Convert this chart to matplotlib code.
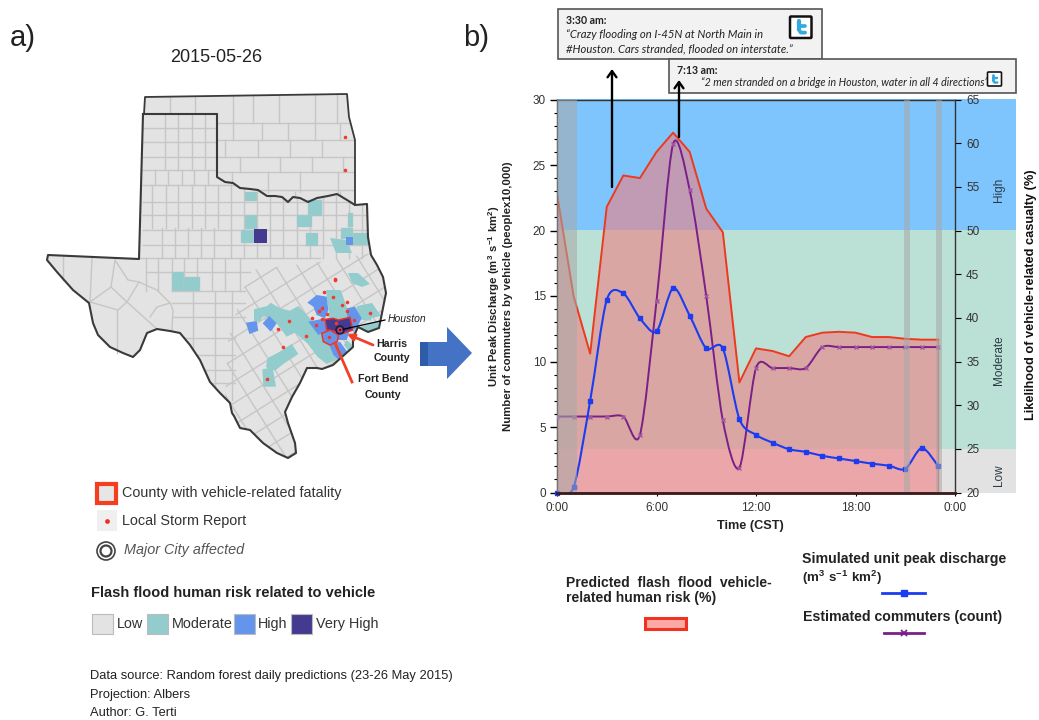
import numpy as np
import matplotlib
matplotlib.use("Agg")
import matplotlib.pyplot as plt
from matplotlib.patches import Polygon, Rectangle, Circle, PathPatch, FancyBboxPatch
from matplotlib.path import Path
from matplotlib.ticker import MultipleLocator, FuncFormatter

plt.rcParams['font.family'] = ['Liberation Sans', 'DejaVu Sans']
plt.rcParams['mathtext.fontset'] = 'custom'
plt.rcParams['mathtext.rm'] = 'Liberation Sans'
plt.rcParams['mathtext.bf'] = 'Liberation Sans:bold'

# ---------- chart data ----------
hours = list(range(24))
discharge = [0, 0.4, 7, 14.7, 15.2, 13.3, 12.3, 15.6, 13.5, 11, 11, 5.6, 4.4, 3.8, 3.3, 3.1, 2.8, 2.6, 2.4, 2.2, 2.05, 1.8, 3.4, 2.0]
commuters = [5.8, 5.8, 5.8, 5.8, 5.8, 4.4, 14.6, 26.6, 23.1, 15, 5.5, 1.9, 9.5, 9.5, 9.5, 9.5, 11.1, 11.1, 11.1, 11.1, 11.1, 11.1, 11.1, 11.1]
risk = [54.2, 42.5, 35.9, 52.7, 56.3, 56, 59, 61.2, 59, 52.5, 49.8, 32.6, 36.5, 36.2, 35.6, 37.8, 38.3, 38.4, 38.3, 37.8, 37.8, 37.6, 37.5, 37.5]
band_edges = [20, 25, 50, 65]
band_colors = ['#E2E2E2', '#BBE0D5', '#7EC5FD']
band_labels = ['Low', 'Moderate', 'High']
band_label_y = [22, 35.2, 54.7]
gray_spans = [(0, 1.2), (20.9, 21.3), (22.85, 23.2)]

# ---------- map geometry (image pixels) ----------
red_river = [(217,177),(225,182),(233,183),(240,188),(250,189),(258,190),(267,196),(275,196),(282,197),(288,202),(293,197),(300,198),(308,202),(317,198),(328,196),(337,194),(347,200),(355,205),(367,204)]
tx_east = [(368,237),(371,255),(377,265),(383,277),(386,293),(382,313),(379,328)]
tx_coast = [(368,332),(358,327),(353,338),(353,347),(333,365),(322,369),(317,368),(307,368),(300,383),(292,397),(285,412),(288,423),(295,443),(296,453),(288,458),(277,453),(263,443),(250,430),(240,428),(234,416),(232,413),(230,403),(220,393)]
rio_grande = [(210,382),(200,360),(190,345),(180,333),(170,331),(157,329),(147,333),(140,350),(133,357),(123,353),(110,347),(98,335),(93,323),(89,303),(73,290),(57,272),(47,260),(48,255)]
texas = [(143,114),(217,114)] + red_river + tx_east + tx_coast + rio_grande + [(139,259)]
oklahoma = [(145,97),(347,94),(349,117),(355,140),(355,205)] + red_river[::-1] + [(217,114),(144,114)]
west_region = [(40,90),(400,90),(400,248),(320,262),(250,270),(240,300),(228,340),(225,400),(225,470),(40,470)]
tp_lines = [[(63,257),(63,280)],[(92,258),(90,302)],[(115,260),(111,287)],[(90,302),(111,287),(127,302),(118,310),(90,302)],
            [(117,310),(117,353)],[(127,302),(157,329)],[(127,302),(139,282)],
            [(115,260),(128,280),(139,282),(157,290),(170,303),(157,307),(150,317)],[(170,303),(173,310),(172,330)]]
tx_rows = [(114,170,[165,178,192,205]),(170,185,[155,168,182,194,208]),(185,228,[152,166,178,192,205,218]),
           (228,258,[162,175,188,201,214,231,244,257,270,283,297,310,323,336,349,362]),(177,228,[231,244,257,270,283,297,310,323,336,349,362]),
           (258,291,[146,158,172,184,197,212,225,240]),(291,400,[193,215,232])]
tx_hlines = [(143,217,128),(143,217,142),(143,217,157),(143,217,170),(143,310,185),(143,372,202),(143,372,215),(143,372,230),(143,372,245),
             (139,320,258),(146,250,272),(172,245,291),(172,245,303),(172,245,317),(172,235,338),(172,235,355),(172,235,370),(172,235,383)]
ok_rows = [(94,123,[170,195,233,253,279,315,337]),(123,140,[233,262,288,315,340]),
           (140,157,[225,258,290,322]),(157,172,[240,280,312,343]),(172,192,[232,268,300,338]),(192,206,[258,295,340])]
ok_hlines = [(217,355,123),(217,355,140),(217,355,157),(217,355,172),(230,355,190)]
teal_rects = [(245,192,12,9),(245,215,12,14),(241,230,13,13),(172,272,12,19),(184,277,16,14),(308,200,14,16),(297,215,15,12),(306,233,12,13),(348,213,5,14),(341,228,12,11),(353,233,15,12)]
teal_polys = [[(348,273),(358,273),(370,284),(362,287),(352,283)],[(330,238),(346,240),(352,253),(336,253)],
              [(352,330),(380,320),(380,328),(368,332),(356,338)],[(357,306),(372,303),(381,316),(362,320)]]
purple_rects = [(254,229,13,14)]
blue_rects = [(346,237,7,8)]
z10_teal = [[(72,58),(112,48),(122,38),(150,55),(180,62),(205,48),(245,90),(290,120),(300,160),(330,205),(290,222),(262,200),(232,160),(195,128),(170,140),(140,100),(100,76),(90,95),(72,92)],
            [(112,205),(150,185),(185,162),(205,192),(160,222),(135,242),(108,232)],[(97,238),(128,232),(138,290),(100,290)],
            [(288,0),(332,0),(350,50),(355,90),(300,92),(295,55)],[(378,52),(420,45),(425,92),(395,90)],
            [(362,138),(425,100),(425,132),(378,165)],[(350,150),(378,175),(365,195),(342,165)]]
z10_blue = [[(48,98),(80,93),(85,122),(58,132)],[(118,78),(140,100),(122,125),(98,100)],
            [(260,15),(290,20),(295,60),(285,85),(260,75),(250,50),(232,38)],[(350,55),(375,50),(395,85),(380,115),(360,120),(352,85)],
            [(235,95),(285,85),(290,122),(265,135),(250,115)],[(298,165),(330,155),(362,200),(332,214),(310,195)],
            [(285,130),(360,120),(350,150),(322,150)]]
z10_harris = [(285,88),(310,85),(325,90),(360,82),(365,105),(368,120),(340,130),(320,125),(290,120)]
z10_fortbend = [(275,130),(300,120),(325,135),(322,155),(300,165),(280,155)]
z4_dots = [(345,120),(312,157),(340,172),(380,187),(365,196),(380,212),(305,203),(298,212),(320,222),(277,235),(305,238),(207,243),(288,255),(175,267),(257,288),(190,320),(348,248),(403,240),(450,220),(358,270),(328,292),(140,417)]
ok_dots = [(345,137),(345,170),(335,279)]

C_LOW, C_MOD, C_HIGH, C_VH = '#E3E3E3', '#92CCCC', '#6495ED', '#443A90'
LINE = '#C6C6C6'

W, H = 1039, 720
fig = plt.figure(figsize=(W/100, H/100), dpi=100, facecolor='white')

# ---------- chart panel ----------
x0, x1, yt, yb = 557, 955, 99.5, 492.5
ax = fig.add_axes([x0/W, 1-yb/H, (x1-x0)/W, (yb-yt)/H])
ax2 = ax.twinx()
ax.set_zorder(ax2.get_zorder()+1); ax.patch.set_visible(False)
ax.set_xlim(0, 24)
ax.set_ylim(0, 30); ax2.set_ylim(20, 65)

band_w = (1015.5-x0)/(x1-x0)
for lo, hi, c, lab, yc in zip(band_edges[:-1], band_edges[1:], band_colors, band_labels, band_label_y):
    ax2.add_patch(Rectangle((0, lo), band_w, hi-lo, transform=ax2.get_yaxis_transform(), fc=c, ec='none', clip_on=False, zorder=0))
    ax2.text(1.11, yc, lab, transform=ax2.get_yaxis_transform(), rotation=90, ha='center', va='center', fontsize=8.5, color='#2b3a44')

ax2.fill_between(hours, risk, 20, color='#F27C80', alpha=0.58, lw=0, zorder=1)
ax2.plot(hours, risk, color='#EC3A1E', lw=1.4, zorder=2)
ax2.plot([23, 23], [20, risk[-1]], color='#D96A60', lw=1, zorder=2)

def smooth(ax_, xs, ys, **kw):
    xs = np.asarray(xs, float); ys = np.asarray(ys, float)
    verts = [(xs[0], ys[0])]; codes = [Path.MOVETO]
    for i in range(len(xs)-1):
        a = max(i-1, 0); d = min(i+2, len(xs)-1)
        c1 = (xs[i]+(xs[i+1]-xs[a])/7, ys[i]+(ys[i+1]-ys[a])/7)
        c2 = (xs[i+1]-(xs[d]-xs[i])/7, ys[i+1]-(ys[d]-ys[i])/7)
        verts += [c1, c2, (xs[i+1], ys[i+1])]
        codes += [Path.CURVE4]*3
    ax_.add_patch(PathPatch(Path(verts, codes), fc='none', **kw))

smooth(ax, hours, commuters, ec='#7A1F88', lw=1.4, zorder=3)
ax.plot(hours, commuters, ls='none', marker='x', ms=3.2, mew=1, color='#A0559F', zorder=3)
smooth(ax, hours, discharge, ec='#1B3CF0', lw=1.5, zorder=4)
ax.plot(hours, discharge, ls='none', marker='s', ms=3, color='#1B3CF0', zorder=4, clip_on=False)
for a, b in gray_spans:
    ax.axvspan(a, b, color='#A8A8A8', alpha=0.55, lw=0, zorder=5)
ax.axhline(0, color='#3a1a1a', lw=2, zorder=6, clip_on=False)

ax.set_xticks([0, 6, 12, 18, 24])
ax.xaxis.set_major_formatter(FuncFormatter(lambda v, p: '0:00' if v >= 24 else f'{int(v)}:00'))
ax.yaxis.set_major_locator(MultipleLocator(5)); ax.yaxis.set_minor_locator(MultipleLocator(1))
ax2.yaxis.set_major_locator(MultipleLocator(5))
ax.tick_params(axis='y', which='major', length=5, width=1, labelsize=8.5, labelcolor='#333333', pad=3)
ax.tick_params(axis='y', which='minor', length=2.5, width=0.8)
ax.tick_params(axis='x', length=2.5, labelsize=8.5, labelcolor='#333333', pad=4)
ax2.tick_params(axis='y', length=4, labelsize=8.5, labelcolor='#333333', pad=4)
for s in ax.spines.values():
    s.set_color('#333333'); s.set_linewidth(1)
for s in ax2.spines.values():
    s.set_visible(False)

# ---------- overlay in image pixels ----------
ov = fig.add_axes([0, 0, 1, 1], zorder=20)
ov.set_xlim(0, W); ov.set_ylim(H, 0); ov.axis('off'); ov.patch.set_visible(False)

def poly(pts, fc, ec='none', lw=0, z=2, **kw):
    p = Polygon(pts, closed=True, fc=fc, ec=ec, lw=lw, zorder=z, **kw)
    ov.add_patch(p); return p

def z10(pts):
    return [(230+x/3, 290+y/3) for x, y in pts]

tx_patch = poly(texas, C_LOW, z=1)
ok_patch = poly(oklahoma, C_LOW, z=1)

# rotated county mesh in the central and eastern part of Texas
ang = np.deg2rad(32)
u = np.array([np.cos(ang), -np.sin(ang)]); v = np.array([np.sin(ang), np.cos(ang)])
centre = np.array([300.0, 340.0])
for k in range(-15, 16):
    for d, e in ((u, v), (v, u)):
        a = centre + e*k*18.5 - d*260; b = centre + e*k*18.5 + d*260
        l, = ov.plot([a[0], b[0]], [a[1], b[1]], color=LINE, lw=1, zorder=1.1)
        l.set_clip_path(tx_patch)
wp = poly(west_region, C_LOW, z=1.2); wp.set_clip_path(tx_patch)

for y0, y1, xs in tx_rows:
    for x in xs:
        l, = ov.plot([x, x], [y0, y1], color=LINE, lw=1, zorder=1.3); l.set_clip_path(tx_patch)
for a, b, y in tx_hlines:
    l, = ov.plot([a, b], [y, y], color=LINE, lw=1, zorder=1.3); l.set_clip_path(tx_patch)
for seg in tp_lines:
    ov.plot(*zip(*seg), color=LINE, lw=1, zorder=1.3)
for y0, y1, xs in ok_rows:
    for x in xs:
        l, = ov.plot([x, x], [y0, y1], color=LINE, lw=1, zorder=1.3); l.set_clip_path(ok_patch)
for a, b, y in ok_hlines:
    l, = ov.plot([a, b], [y, y], color=LINE, lw=1, zorder=1.3); l.set_clip_path(ok_patch)

for x, y, w, h in teal_rects:
    ov.add_patch(Rectangle((x, y), w, h, fc=C_MOD, ec=LINE, lw=0.3, zorder=2))
for x, y, w, h in purple_rects:
    ov.add_patch(Rectangle((x, y), w, h, fc=C_VH, ec='none', zorder=2))
for x, y, w, h in blue_rects:
    ov.add_patch(Rectangle((x, y), w, h, fc=C_HIGH, ec='none', zorder=2.2))
for pts in teal_polys:
    poly(pts, C_MOD).set_clip_path(tx_patch)
for pts in z10_teal:
    poly(z10(pts), C_MOD).set_clip_path(tx_patch)
for pts in z10_blue:
    poly(z10(pts), C_HIGH, z=2.1).set_clip_path(tx_patch)
poly(z10(z10_harris), C_VH, ec='#E8352A', lw=1.1, z=2.3)
poly(z10(z10_fortbend), C_HIGH, ec='#E8352A', lw=1.1, z=2.3)

# borders
ov.plot(*zip(*texas, texas[0]), color='#3A3A3A', lw=1.5, zorder=3, solid_joinstyle='round')
ok_border = [(217,114),(144,114),(145,97),(347,94),(349,117),(355,140),(355,205)]
ov.plot(*zip(*ok_border), color='#3A3A3A', lw=1.3, zorder=3)

# storm reports
dots = [(220+x/3, 240+y/3) for x, y in z4_dots] + ok_dots
ov.plot(*zip(*dots), ls='none', marker='o', ms=2.6, color='#EE3B2E', mew=0, zorder=4)

# Houston and annotations
ov.add_patch(Circle((340, 330), 4, fc=C_VH, ec='#1a1a40', lw=1, zorder=4))
ov.add_patch(Circle((340, 330), 1.8, fc='none', ec='#EE3B2E', lw=0.9, zorder=4.1))
ov.plot([340, 385], [330, 320], color='black', lw=0.9, zorder=4)
ov.text(388, 319, 'Houston', style='italic', fontsize=7.5, va='center', color='#222222')
ov.annotate('', xy=(347, 334), xytext=(373, 345), arrowprops=dict(arrowstyle='-|>', color='#F0402A', lw=2, shrinkA=0, shrinkB=0), zorder=5)
ov.plot([335, 352], [343, 382], color='#F0402A', lw=2, zorder=5)
for x, y, s in [(392, 344, 'Harris'), (392, 358, 'County'), (383, 379, 'Fort Bend'), (383, 395, 'County')]:
    ov.text(x, y, s, fontsize=7.7, fontweight='bold', ha='center', va='center', color='#222222')

# big arrow
poly([(420,342),(447,342),(447,327),(472,353),(447,379),(447,366),(420,366)], '#4472C4', z=5)
ov.add_patch(Rectangle((420, 342), 8, 24, fc='#2F5CA8', ec='none', zorder=5.1))

# panel labels and map title
ov.text(10, 38, 'a)', fontsize=21, va='center', color='#222222')
ov.text(463, 38, 'b)', fontsize=21, va='center', color='#222222')
ov.text(216, 57, '2015-05-26', fontsize=13, ha='center', va='center', color='#222222')

# map legend
TXT = '#333333'
ov.add_patch(Rectangle((97, 484), 18.5, 18.5, fc='#E6E6E6', ec='#F53D1F', lw=3, zorder=2))
ov.text(122, 493, 'County with vehicle-related fatality', fontsize=10.4, va='center', color=TXT)
ov.add_patch(Rectangle((97, 510), 20, 21, fc='#EFEFEF', ec='none', zorder=2))
ov.plot([107], [521], marker='o', ms=3.4, color='#EE2B1E', mew=0, zorder=3)
ov.text(122, 521, 'Local Storm Report', fontsize=10.4, va='center', color=TXT)
ov.add_patch(Circle((106, 551), 9, fc='white', ec='#444444', lw=1.2))
ov.add_patch(Circle((106, 551), 5.5, fc='white', ec='#444444', lw=1.6))
ov.text(124, 550, 'Major City affected', fontsize=10.4, style='italic', va='center', color='#555555')
ov.text(91, 593, 'Flash flood human risk related to vehicle', fontsize=10.55, fontweight='bold', va='center', color='#222222')
for x, c, lab, tx in [(92, C_LOW, 'Low', 117), (147, C_MOD, 'Moderate', 172), (234, C_HIGH, 'High', 258), (291, C_VH, 'Very High', 316)]:
    ov.add_patch(Rectangle((x, 613.5), 20.5, 20.5, fc=c, ec='#BBBBBB', lw=0.8))
    ov.text(tx, 624, lab, fontsize=10.4, va='center', color=TXT)
for y, s in [(676.5, 'Data source: Random forest daily predictions (23-26 May 2015)'), (695, 'Projection: Albers'), (713.5, 'Author: G. Terti')]:
    ov.text(90, y, s, fontsize=9.25, va='center', color='#222222')

# chart axis titles
ov.text(494, 296, r'Unit Peak Discharge ($\mathbf{m^{3}\ s^{-1}\ km^{2}}$)', rotation=90, fontsize=8.2, fontweight='bold', ha='center', va='center', color='#222222')
ov.text(508, 296, 'Number of commuters by vehicle (peoplex10,000)', rotation=90, fontsize=8.2, fontweight='bold', ha='center', va='center', color='#222222')
ov.text(1031, 295, 'Likelihood of vehicle-related casualty (%)', rotation=90, fontsize=9.2, fontweight='bold', ha='center', va='center', color='#111111')
ov.text(750, 526, 'Time (CST)', fontsize=9.2, fontweight='bold', ha='center', va='center', color='#222222')

# tweet boxes
ov.add_patch(Rectangle((558, 8.5), 264, 50.5, fc='#F2F2F2', ec='#555555', lw=1.2, zorder=6))
ov.add_patch(Rectangle((669, 59), 347, 33.5, fc='#F2F2F2', ec='#555555', lw=1.2, zorder=6.1))
tw = ['Lato', 'Open Sans', 'DejaVu Sans']
ov.text(566, 21, '3:30 am:', family=tw, fontweight='bold', fontsize=7.6, va='center', color='#222222', zorder=7)
ov.text(566, 35, '\u201cCrazy flooding on I-45N at North Main in', family=tw, style='italic', fontsize=8.15, va='center', color='#222222', zorder=7)
ov.text(566, 49, '#Houston. Cars stranded, flooded on interstate.\u201d', family=tw, style='italic', fontsize=8.15, va='center', color='#222222', zorder=7)
ov.text(677, 71, '7:13 am:', family=tw, fontweight='bold', fontsize=7.6, va='center', color='#222222', zorder=7)
ov.text(701, 83, '\u201c2 men stranded on a bridge in Houston, water in all 4 directions\u201d', family=tw, style='italic', fontsize=7.7, va='center', color='#222222', zorder=7)

def twitter(x, y, s):
    ov.add_patch(FancyBboxPatch((x, y), s, s, boxstyle='round,pad=0,rounding_size=1', fc='white', ec='#111111', lw=s/12, zorder=7))
    b = s/20
    col = '#35A9DE'
    ov.plot([x+8*b, x+8*b], [y+4*b, y+12*b], color=col, lw=s/7, zorder=8, solid_capstyle='round')
    ov.plot([x+8*b, x+14*b], [y+8.5*b, y+8.5*b], color=col, lw=s/8, zorder=8, solid_capstyle='round')
    ov.plot([x+8*b, x+10*b, x+14*b], [y+12*b, y+15*b, y+15*b], color=col, lw=s/8, zorder=8, solid_capstyle='round')

twitter(790, 16.5, 21.5)
twitter(987.5, 72, 14)

# arrows
for x, y0, y1 in [(612, 187, 69), (679, 137, 80)]:
    ov.annotate('', xy=(x, y1), xytext=(x, y0), arrowprops=dict(arrowstyle='->,head_width=0.32,head_length=0.45', color='black', lw=1.7, shrinkA=0, shrinkB=0), zorder=9)

# chart legend
ov.text(566, 583, 'Predicted  flash  flood  vehicle-', fontsize=10.1, fontweight='bold', va='center', color='#222222')
ov.text(566, 598, 'related human risk (%)', fontsize=10.1, fontweight='bold', va='center', color='#222222')
ov.add_patch(Rectangle((645, 617.5), 41, 11.5, fc='#F9A9A6', ec='#F0321E', lw=2.2))
ov.text(802, 559.5, 'Simulated unit peak discharge', fontsize=10.2, fontweight='bold', va='center', color='#222222')
ov.text(802, 578, r'($\mathbf{m^{3}\ s^{-1}\ km^{2}}$)', fontsize=9.6, fontweight='bold', va='center', color='#222222')
ov.plot([882, 925], [593, 593], color='#1B3CF0', lw=2)
ov.plot([904], [593], marker='s', ms=5, color='#1B3CF0')
ov.text(803, 617, 'Estimated commuters (count)', fontsize=10.2, fontweight='bold', va='center', color='#222222')
ov.plot([884, 924], [633, 633], color='#7A1F88', lw=2)
ov.plot([904], [633], marker='x', ms=5, mew=1.3, color='#7A1F88')

fig.savefig('out.png', dpi=100)
